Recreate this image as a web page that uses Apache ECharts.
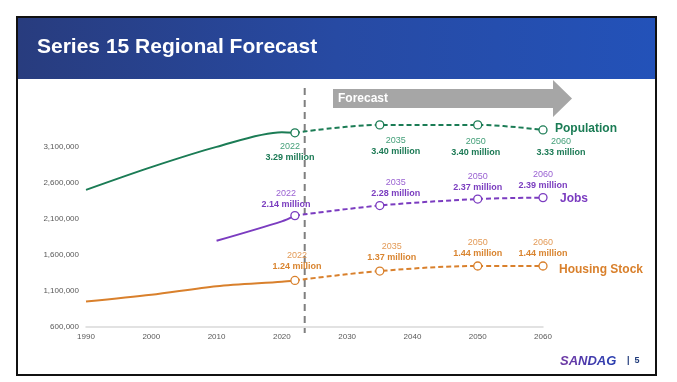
<!DOCTYPE html>
<html>
<head>
<meta charset="utf-8">
<script src="https://cdn.jsdelivr.net/npm/echarts@6/dist/echarts.min.js"></script>
<style>
html,body{margin:0;padding:0;background:#fff;}
#c{width:677px;height:382px;}
</style>
</head>
<body>
<div id="c"></div>
<script>
// ---- data ----
const titleText = 'Series 15 Regional Forecast';
const histYears = [1990, 2000, 2010, 2020, 2022];
const popHist = [2498000, 2814000, 3095000, 3298000, 3290000];
const housingHist = [946000, 1040000, 1160000, 1222000, 1240000];
const jobsHistYears = [2010, 2020, 2022];
const jobsHist = [1790000, 2060000, 2140000];
const forecastYears = [2022, 2035, 2050, 2060];
const popFc = [3290000, 3400000, 3400000, 3330000];
const jobsFc = [2140000, 2280000, 2370000, 2390000];
const housingFc = [1240000, 1370000, 1440000, 1440000];
const seriesNames = ['Population', 'Jobs', 'Housing Stock'];
const forecastYear = 2023.5;

// ---- styles ----
const C = {
  pop: {line: '#1b7c55', year: '#45a07a', val: '#1c7a55'},
  jobs: {line: '#7b3cc0', year: '#9a62d2', val: '#7a3cbf'},
  house: {line: '#d9802c', year: '#e39b58', val: '#d9842f'}
};
// label placement per point: [position, distance, dx]
const popLbl = [['bottom', 4, -5], ['bottom', 5, 16], ['bottom', 6, -2], ['bottom', 1, 18]];
const jobsLbl = [['top', 0.5, -9], ['top', 1.5, 16], ['top', 1, 0], ['top', 2, 0]];
const houseLbl = [['top', 4, 2], ['top', 3, 12], ['top', 2, 0], ['top', 2, 0]];

function pair(xs, ys) { return xs.map((x, i) => [x, ys[i]]); }
function fcData(vals, lbls, col) {
  return vals.map((v, i) => ({
    value: [forecastYears[i], v],
    label: {
      show: true,
      position: lbls[i][0],
      distance: lbls[i][1],
      offset: [lbls[i][2], 0],
      formatter: '{y|' + forecastYears[i] + '}\n{v|' + (v / 1e6).toFixed(2) + ' million}',
      rich: {
        y: {fontSize: 9, color: col.year, fontFamily: 'Liberation Sans', lineHeight: 11, align: 'center'},
        v: {fontSize: 9, color: col.val, fontWeight: 'bold', fontFamily: 'Liberation Sans', lineHeight: 11, align: 'center'}
      }
    }
  }));
}
function hist(name, data, col) {
  return {
    name: name, type: 'line', data: data, smooth: 0.3, showSymbol: false, silent: true,
    lineStyle: {color: col.line, width: 2}, itemStyle: {color: col.line}, z: 2
  };
}
function fc(name, data, col, endOff) {
  return {
    name: name, type: 'line', data: data, smooth: 0.35, symbol: 'circle', symbolSize: 8,
    showAllSymbol: true,
    lineStyle: {color: col.line, width: 2, type: [5, 3]},
    itemStyle: {color: '#fff', borderColor: col.line, borderWidth: 1.3},
    endLabel: {show: true, formatter: p => p.seriesName, color: col.line, fontWeight: 'bold',
      fontSize: 12, fontFamily: 'Liberation Sans', distance: 8, offset: endOff},
    z: 3
  };
}

const chart = echarts.init(document.getElementById('c'), null, {renderer: 'canvas'});
const option = {
  animation: false,
  backgroundColor: '#fff',
  grid: {left: 86, right: 134, top: 110.5, bottom: 55.5},
  xAxis: {
    type: 'value', min: 1990, max: 2060, interval: 10,
    axisLine: {show: true, lineStyle: {color: '#d9d9d9', width: 1.5}},
    axisTick: {show: false}, splitLine: {show: false},
    axisLabel: {formatter: v => String(v), fontSize: 8, color: '#595959', fontFamily: 'Liberation Sans', margin: 6}
  },
  yAxis: {
    type: 'value', min: 600000, max: 3600000, interval: 500000,
    axisLine: {show: false}, axisTick: {show: false}, splitLine: {show: false},
    axisLabel: {showMaxLabel: false, formatter: v => v.toLocaleString('en-US'), fontSize: 8,
      color: '#595959', fontFamily: 'Liberation Sans', margin: 7}
  },
  series: [
    hist(seriesNames[0], pair(histYears, popHist), C.pop),
    hist(seriesNames[1], pair(jobsHistYears, jobsHist), C.jobs),
    hist(seriesNames[2], pair(histYears, housingHist), C.house),
    fc(seriesNames[0], fcData(popFc, popLbl, C.pop), C.pop, [4, -1]),
    fc(seriesNames[1], fcData(jobsFc, jobsLbl, C.jobs), C.jobs, [9, 1]),
    fc(seriesNames[2], fcData(housingFc, houseLbl, C.house), C.house, [8, 4])
  ]
};
chart.setOption(option);

const logoColors = ['#6b3aa5', '#6239a8', '#5039ab', '#423cad', '#363dae', '#2d3faf'];
const logoRich = {};
logoColors.forEach((c, i) => {
  logoRich['c' + i] = {fill: c, color: c, font: 'italic bold 13px "Liberation Sans", Arial'};
});
const logoText = 'SANDAG'.split('').map((ch, i) => '{c' + i + '|' + ch + '}').join('');

const vx = chart.convertToPixel({xAxisIndex: 0}, forecastYear);
chart.setOption({
  graphic: [
    {type: 'rect', silent: true, z: 0, shape: {x: 17, y: 17, width: 639, height: 62},
      style: {fill: new echarts.graphic.LinearGradient(0, 0, 1, 0, [
        {offset: 0, color: '#283c7e'}, {offset: 0.5, color: '#274aa3'}, {offset: 1, color: '#2352b9'}])}},
    {type: 'text', silent: true, z: 1, x: 37, y: 47.5,
      style: {text: titleText, fill: '#fff', font: 'bold 21px "Liberation Sans", Arial', verticalAlign: 'middle'}},
    {type: 'rect', silent: true, z: 10, shape: {x: 17, y: 17, width: 639, height: 358},
      style: {fill: 'none', stroke: '#111', lineWidth: 2}},
    {type: 'polygon', silent: true, z: 1,
      shape: {points: [[333, 89], [553, 89], [553, 80], [572, 98.5], [553, 117], [553, 108], [333, 108]]},
      style: {fill: '#a6a6a6'}},
    {type: 'text', silent: true, z: 2, x: 338, y: 98.5,
      style: {text: 'Forecast', fill: '#fff', font: 'bold 12px "Liberation Sans", Arial', verticalAlign: 'middle'}},
    {type: 'line', silent: true, z: 1, shape: {x1: vx, y1: 88, x2: vx, y2: 333},
      style: {stroke: '#7f7f7f', lineWidth: 2, lineDash: [7, 5]}},
    {type: 'text', silent: true, z: 2, x: 560, y: 361,
      style: {text: logoText, rich: logoRich, verticalAlign: 'middle'}},
    {type: 'text', silent: true, z: 2, x: 627, y: 361,
      style: {text: '|  5', font: 'bold 9px "Liberation Sans", Arial', fill: '#1f3a7a', verticalAlign: 'middle'}}
  ]
});
</script>
</body>
</html>
